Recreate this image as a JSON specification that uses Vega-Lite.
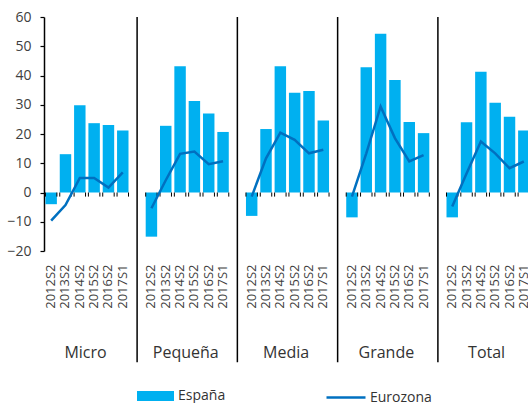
{
  "$schema": "https://vega.github.io/schema/vega-lite/v6.json",
  "width": 484,
  "height": 234,
  "autosize": {"type": "none"},
  "padding": {"left": 44, "top": 17, "right": 0, "bottom": 152},
  "config": {
    "view": {"stroke": null},
    "font": "Open Sans",
    "axis": {"labelFont": "Open Sans", "labelColor": "#404040", "labelOverlap": false},
    "legend": {"labelFont": "Open Sans", "labelColor": "#333333"}
  },
  "datasets": {
    "sales": [
      {"k": "Micro|2012S2", "g": "Micro", "p": "2012S2", "es": -4.0, "ez": -9.6},
      {"k": "Micro|2013S2", "g": "Micro", "p": "2013S2", "es": 13.1, "ez": -4.3},
      {"k": "Micro|2014S2", "g": "Micro", "p": "2014S2", "es": 29.8, "ez": 5.0},
      {"k": "Micro|2015S2", "g": "Micro", "p": "2015S2", "es": 23.7, "ez": 5.0},
      {"k": "Micro|2016S2", "g": "Micro", "p": "2016S2", "es": 23.1, "ez": 1.7},
      {"k": "Micro|2017S1", "g": "Micro", "p": "2017S1", "es": 21.2, "ez": 6.9},
      {"k": "Pequeña|2012S2", "g": "Pequeña", "p": "2012S2", "es": -15.1, "ez": -5.4},
      {"k": "Pequeña|2013S2", "g": "Pequeña", "p": "2013S2", "es": 22.8, "ez": 4.2},
      {"k": "Pequeña|2014S2", "g": "Pequeña", "p": "2014S2", "es": 43.2, "ez": 13.2},
      {"k": "Pequeña|2015S2", "g": "Pequeña", "p": "2015S2", "es": 31.3, "ez": 14.0},
      {"k": "Pequeña|2016S2", "g": "Pequeña", "p": "2016S2", "es": 27.0, "ez": 9.7},
      {"k": "Pequeña|2017S1", "g": "Pequeña", "p": "2017S1", "es": 20.7, "ez": 10.7},
      {"k": "Media|2012S2", "g": "Media", "p": "2012S2", "es": -8.0, "ez": -1.4},
      {"k": "Media|2013S2", "g": "Media", "p": "2013S2", "es": 21.7, "ez": 11.7},
      {"k": "Media|2014S2", "g": "Media", "p": "2014S2", "es": 43.2, "ez": 20.5},
      {"k": "Media|2015S2", "g": "Media", "p": "2015S2", "es": 34.1, "ez": 18.0},
      {"k": "Media|2016S2", "g": "Media", "p": "2016S2", "es": 34.7, "ez": 13.4},
      {"k": "Media|2017S1", "g": "Media", "p": "2017S1", "es": 24.6, "ez": 14.6},
      {"k": "Grande|2012S2", "g": "Grande", "p": "2012S2", "es": -8.5, "ez": -1.4},
      {"k": "Grande|2013S2", "g": "Grande", "p": "2013S2", "es": 42.8, "ez": 13.4},
      {"k": "Grande|2014S2", "g": "Grande", "p": "2014S2", "es": 54.3, "ez": 29.4},
      {"k": "Grande|2015S2", "g": "Grande", "p": "2015S2", "es": 38.5, "ez": 18.6},
      {"k": "Grande|2016S2", "g": "Grande", "p": "2016S2", "es": 24.1, "ez": 10.6},
      {"k": "Grande|2017S1", "g": "Grande", "p": "2017S1", "es": 20.3, "ez": 12.8},
      {"k": "Total|2012S2", "g": "Total", "p": "2012S2", "es": -8.5, "ez": -4.8},
      {"k": "Total|2013S2", "g": "Total", "p": "2013S2", "es": 24.0, "ez": 6.5},
      {"k": "Total|2014S2", "g": "Total", "p": "2014S2", "es": 41.3, "ez": 17.4},
      {"k": "Total|2015S2", "g": "Total", "p": "2015S2", "es": 30.7, "ez": 13.4},
      {"k": "Total|2016S2", "g": "Total", "p": "2016S2", "es": 25.9, "ez": 8.3},
      {"k": "Total|2017S1", "g": "Total", "p": "2017S1", "es": 21.2, "ez": 10.6}
    ],
    "gaps": [
      {"k": "Micro|"},
      {"k": "Pequeña|"},
      {"k": "Media|"},
      {"k": "Grande|"}
    ]
  },
  "layer": [
    {
      "data": {"name": "sales"},
      "mark": {"type": "bar"},
      "encoding": {
        "x": {
          "field": "k",
          "type": "nominal",
          "sort": null,
          "scale": {
            "domain": [
              "Micro|2012S2", "Micro|2013S2", "Micro|2014S2", "Micro|2015S2", "Micro|2016S2", "Micro|2017S1", "Micro|",
              "Pequeña|2012S2", "Pequeña|2013S2", "Pequeña|2014S2", "Pequeña|2015S2", "Pequeña|2016S2", "Pequeña|2017S1", "Pequeña|",
              "Media|2012S2", "Media|2013S2", "Media|2014S2", "Media|2015S2", "Media|2016S2", "Media|2017S1", "Media|",
              "Grande|2012S2", "Grande|2013S2", "Grande|2014S2", "Grande|2015S2", "Grande|2016S2", "Grande|2017S1", "Grande|",
              "Total|2012S2", "Total|2013S2", "Total|2014S2", "Total|2015S2", "Total|2016S2", "Total|2017S1"
            ],
            "range": [0, 487],
            "paddingInner": 0.2,
            "paddingOuter": 0.1
          },
          "axis": {
            "title": null,
            "domain": false,
            "ticks": false,
            "tickSize": 0,
            "labelAngle": 270,
            "labelPadding": 13,
            "labelFontSize": 13,
            "labelOverlap": false,
            "labelExpr": "split(datum.value, '|')[1]"
          }
        },
        "y": {
          "field": "es",
          "type": "quantitative",
          "scale": {"domain": [-20, 60], "nice": false},
          "axis": {
            "title": null,
            "values": [-20, -10, 0, 10, 20, 30, 40, 50, 60],
            "tickCount": 9,
            "labelOverlap": false,
            "grid": false,
            "domainColor": "#000000",
            "domainWidth": 1.5,
            "tickColor": "#000000",
            "tickWidth": 1.2,
            "tickSize": 4,
            "labelPadding": 9,
            "labelFontSize": 14
          }
        },
        "fill": {
          "datum": "España",
          "scale": {"range": ["#00B0F0"]},
          "legend": {
            "title": null,
            "orient": "none",
            "legendX": 93,
            "legendY": 360.5,
            "padding": 0,
            "symbolType": "M-1,-0.27L1,-0.27L1,0.27L-1,0.27Z",
            "symbolSize": 1369,
            "symbolStrokeWidth": 0,
            "symbolOpacity": 1,
            "labelOffset": 4,
            "labelFontSize": 14
          }
        }
      }
    },
    {
      "mark": {"type": "rule", "color": "#000000", "strokeWidth": 1.5},
      "encoding": {"y": {"datum": 0}}
    },
    {
      "data": {"name": "sales"},
      "mark": {"type": "rule", "color": "#000000", "strokeWidth": 1},
      "encoding": {
        "x": {"field": "k", "type": "nominal", "bandPosition": 0},
        "y": {"datum": 0},
        "y2": {"datum": -1.4}
      }
    },
    {
      "data": {"name": "sales"},
      "mark": {"type": "rule", "color": "#000000", "strokeWidth": 1},
      "encoding": {
        "x": {"field": "k", "type": "nominal", "bandPosition": 1},
        "y": {"datum": 0},
        "y2": {"datum": -1.4}
      }
    },
    {
      "data": {"name": "gaps"},
      "mark": {"type": "rule", "color": "#000000", "strokeWidth": 1.5},
      "encoding": {
        "x": {"field": "k", "type": "nominal"},
        "y": {"datum": 60},
        "y2": {"datum": -58}
      }
    },
    {
      "data": {"name": "sales"},
      "mark": {"type": "line", "strokeWidth": 2.5},
      "encoding": {
        "x": {"field": "k", "type": "nominal"},
        "y": {
          "field": "ez",
          "type": "quantitative",
          "axis": {
            "title": null,
            "values": [-20, -10, 0, 10, 20, 30, 40, 50, 60],
            "tickCount": 9,
            "labelOverlap": false,
            "grid": false,
            "domainColor": "#000000",
            "domainWidth": 1.5,
            "tickColor": "#000000",
            "tickWidth": 1.2,
            "tickSize": 4,
            "labelPadding": 9,
            "labelFontSize": 14
          }
        },
        "detail": {"field": "g"},
        "stroke": {
          "datum": "Eurozona",
          "scale": {"range": ["#0070C0"]},
          "legend": {
            "title": null,
            "orient": "none",
            "legendX": 281,
            "legendY": 359.5,
            "padding": 0,
            "symbolType": "stroke",
            "symbolSize": 1521,
            "symbolStrokeWidth": 2.5,
            "labelOffset": 3,
            "labelFontSize": 14,
            "labelLimit": 200
          }
        }
      }
    },
    {
      "data": {"name": "sales"},
      "transform": [{"filter": "datum.p === '2014S2'"}],
      "mark": {"type": "text", "fontSize": 16, "color": "#333333", "baseline": "alphabetic", "align": "center"},
      "encoding": {
        "x": {"field": "k", "type": "nominal", "bandPosition": 1},
        "y": {"datum": -56.7},
        "text": {"field": "g"}
      }
    }
  ]
}
